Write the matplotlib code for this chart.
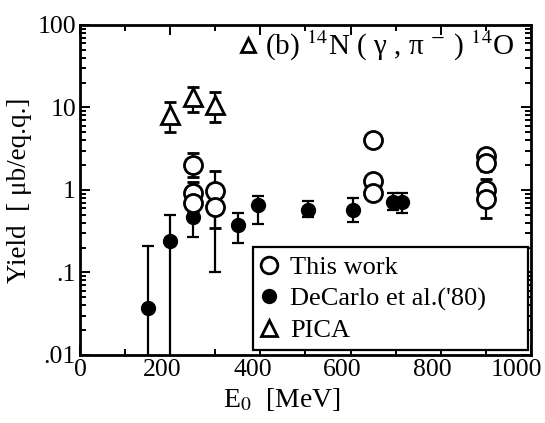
import numpy as np
import matplotlib
matplotlib.use('Agg')
import matplotlib.pyplot as plt
from matplotlib.lines import Line2D
from matplotlib.transforms import ScaledTranslation
from matplotlib.ticker import FixedLocator, FuncFormatter, LogLocator, NullFormatter

plt.rcParams['font.family'] = 'Liberation Serif'
plt.rcParams['mathtext.fontset'] = 'stix'

# this work: open circles
tw_e = [250, 250, 250, 300, 300, 650, 650, 650, 900, 900, 900, 900]
tw_y = [2.0, 0.92, 0.70, 0.97, 0.62, 4.0, 1.3, 0.92, 2.6, 2.1, 1.0, 0.78]
tw_lo = [1.45, 0.70, 0.55, 0.75, 0.35, 3.9, 1.15, 0.78, 2.45, 1.7, 0.85, 0.46]
tw_hi = [2.8, 1.25, 0.85, 1.7, 0.85, 4.1, 1.45, 1.05, 2.8, 2.4, 1.35, 0.95]

# DeCarlo et al. 1980: filled circles
dc_e = [150, 200, 250, 300, 350, 395, 505, 605, 695, 715]
dc_y = [0.037, 0.24, 0.47, 0.60, 0.38, 0.66, 0.57, 0.57, 0.72, 0.72]
dc_lo = [0.001, 0.001, 0.27, 0.10, 0.23, 0.39, 0.47, 0.41, 0.57, 0.53]
dc_hi = [0.21, 0.50, 0.80, 0.90, 0.53, 0.85, 0.73, 0.80, 0.92, 0.92]

# PICA calculation: open triangles
pica_e = [200, 250, 300]
pica_y = [8.1, 13.4, 10.7]
pica_lo = [5.0, 8.8, 6.7]
pica_hi = [11.7, 17.7, 15.4]


def yerr(y, lo, hi):
    y = np.array(y)
    return [y - np.array(lo), np.array(hi) - y]


fig = plt.figure(figsize=(5.45, 4.23), dpi=100)
ax = fig.add_axes([0.147, 0.161, 0.827, 0.780])

eb = dict(ecolor='black', elinewidth=1.6, capsize=4.5, capthick=1.6, linestyle='none')
ax.errorbar(dc_e, dc_y, yerr=yerr(dc_y, dc_lo, dc_hi), marker='o', ms=10,
            mfc='black', mec='black', zorder=3, **eb)
ax.errorbar(tw_e, tw_y, yerr=yerr(tw_y, tw_lo, tw_hi), marker='o', ms=13,
            mfc='white', mec='black', mew=2, zorder=4, **eb)
ax.errorbar(pica_e, pica_y, yerr=yerr(pica_y, pica_lo, pica_hi), marker='^', ms=13,
            mfc='white', mec='black', mew=2, zorder=4, **eb)

ax.set_yscale('log')
ax.set_xlim(0, 1000)
ax.set_ylim(0.01, 100)

ax.xaxis.set_major_locator(FixedLocator([0, 200, 400, 600, 800, 1000]))
ax.xaxis.set_minor_locator(FixedLocator(np.arange(100, 1000, 100)))
ax.yaxis.set_major_locator(LogLocator(base=10, numticks=10))
ax.yaxis.set_minor_locator(LogLocator(base=10, subs=np.arange(2, 10), numticks=10))
ax.yaxis.set_minor_formatter(NullFormatter())
ylabels = {0.01: '.01', 0.1: '.1', 1: '1', 10: '10', 100: '100'}
ax.yaxis.set_major_formatter(FuncFormatter(lambda v, p: ylabels.get(round(v, 2), '')))

ax.tick_params(which='both', direction='in', top=True, right=True, width=1.4,
               labelsize=18.5, pad=3)
ax.tick_params(which='major', length=7)
ax.tick_params(which='minor', length=4)
for s in ax.spines.values():
    s.set_linewidth(2)

# x labels sit a little left of their ticks; the last one stays inside the figure
fig.canvas.draw()
for i, lab in enumerate(ax.get_xticklabels()):
    dx = 0 if i == 0 else (-14 if i == 5 else -8)
    lab.set_transform(lab.get_transform() + ScaledTranslation(dx / 100, 0, fig.dpi_scale_trans))

ax.set_xlabel(r'E$_0$  [MeV]', fontsize=20, labelpad=1)
ax.xaxis.set_label_coords(0.448, -0.095)
ax.set_ylabel('Yield  [ μb/eq.q.]', fontsize=19.5, labelpad=4)

# reaction label in the upper right
ax.plot([0.373], [0.94], marker='^', ms=10, mfc='white', mec='black', mew=2,
        transform=ax.transAxes, clip_on=False)
ax.text(0.41, 0.935, r'(b) $^{14}$N ( γ , π $^{-}$ ) $^{14}$O', fontsize=21,
        transform=ax.transAxes, va='center', ha='left')

handles = [
    Line2D([], [], ls='none', marker='o', ms=12, mfc='white', mec='black', mew=2),
    Line2D([], [], ls='none', marker='o', ms=10, mfc='black', mec='black'),
    Line2D([], [], ls='none', marker='^', ms=12, mfc='white', mec='black', mew=2),
]
leg = ax.legend(handles, ['This work', "DeCarlo et al.('80)", 'PICA'],
                loc='lower left', bbox_to_anchor=(0.384, 0.015, 0.609, 0.3),
                mode='expand', fontsize=19,
                frameon=True, fancybox=False, edgecolor='black', framealpha=1,
                handlelength=0.6, handletextpad=0.5, borderpad=0.3, labelspacing=0.3,
                borderaxespad=0)
leg.get_frame().set_linewidth(1.6)

fig.savefig('out.png', dpi=100)
